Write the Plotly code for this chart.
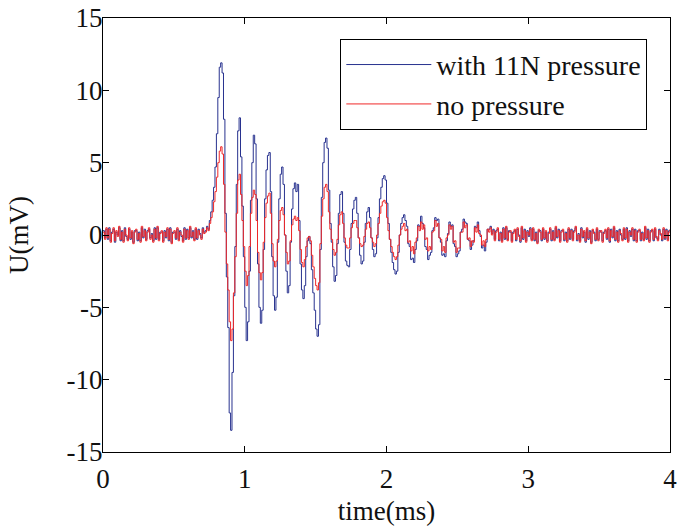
import plotly.graph_objects as go

dt = 0.01  # ms per sample

# ---- "with 11N pressure" (blue) ----
blue_pre = [
    0.3, -0.2, 0.4, -0.3, 0.5, -0.4, 0.2, 0.4, -0.5, 0.2,
    0.0, 0.5, -0.4, 0.3, -0.4, 0.5, -0.1, -0.3, 0.4, -0.3,
    0.2, -0.5, 0.3, 0.3, -0.4, 0.2, -0.4, 0.5, -0.2, 0.4,
    -0.3, 0.3, 0.4, -0.2, 0.1, -0.4, 0.5, -0.3, 0.5, -0.3,
    0.2, 0.2, -0.4, 0.3, -0.2, 0.4, -0.4, 0.5, -0.5, 0.2,
    0.2, -0.3, 0.4, -0.3, 0.3, -0.1, -0.4, 0.5, -0.3, 0.4,
    -0.2, 0.5, -0.2, 0.3, -0.3, 0.4, -0.3, 0.4, 0.1, -0.2,
    0.5, 0.2,
]
blue_event = [
    0.3, 0.6, 0.4, 1.0, 1.6, 2.4, 3.3, 4.7, 7.0, 9.5,
    11.6, 11.9, 11.2, 8.0, 1.5, -2.9, -6.4, -12.3, -13.5, -9.5,
    -4.2, -0.8, 3.5, 7.2, 8.1, 5.4, 2.0, -1.5, -5.0, -7.3,
    -6.0, -2.5, 2.4, 5.0, 6.9, 6.3, 2.5, -2.0, -5.0, -6.1,
    -5.2, -1.0, 2.5, 4.5, 5.5, 5.7, 3.0, -1.5, -4.2, -5.2,
    -4.3, -0.5, 2.5, 4.2, 4.7, 3.5, 0.0, -2.5, -4.0, -3.5,
    -0.5, 1.8, 3.2, 3.6, 3.0, 3.5, 1.0, -2.0, -3.8, -4.4,
    -3.5, -1.5, -0.4, -0.1, -0.6, -2.4, -4.0, -5.2, -6.5, -7.0,
    -6.2, -1.0, 2.6, 5.0, 6.4, 6.7, 6.0, 3.1, 0.8, -0.5,
    -2.2, -3.2, -2.8, -0.6, 1.5, 2.8, 3.0, 1.5, -0.5, -1.8,
    -2.1, -2.2, -1.0, 0.8, 1.8, 2.4, 2.6, 1.5, -0.2, -1.4,
    -2.0, -1.8, -0.5, 0.8, 1.6, 1.9, 1.2, -0.2, -1.0, -1.5,
    -1.3, -0.2, 1.2, 2.5, 3.3, 3.9, 4.1, 3.8, 2.2, 0.8,
    -0.3, -1.2, -1.9, -2.4, -2.7, -2.5, -1.2, 0.0, 0.8, 1.2,
    1.4, 1.0, 0.6, -0.6, -0.8, -1.7, -1.6, -1.9, -1.0, -0.4,
    0.7, 0.6, 1.3, 0.8, 0.5, -0.8, -1.0, -1.7, -1.4, -1.2,
    0.3, 0.5, 1.2, 1.0, 1.1, -0.2, -0.5, -1.4, -1.3, -1.5,
    -0.4, 0.1, 0.9, 0.6, 0.7, -0.6, -0.8, -1.5, -1.3, -1.1,
    0.2, 0.4, 1.1, 0.9, 0.8, -0.3, -0.4, -1.0, -0.7, -0.4,
    0.6, 0.5, 0.9, 0.3, -0.1, -0.9, -0.7, -1.1, -0.5, 0.4,
    0.4, 0.6, 0.1,
]
blue_tail = [
    0.4, -0.3, 0.3, 0.4, -0.4, 0.2, -0.4, 0.5, -0.3, 0.5,
    -0.3, 0.3, 0.2, -0.4, 0.2, 0.3, -0.4, 0.4, 0.0, -0.5,
    0.5, -0.3, 0.4, -0.4, 0.3, -0.1, 0.5, -0.3, 0.4, -0.4,
    0.2, -0.5, 0.3, 0.3, -0.4, 0.4, -0.3, 0.2, -0.4, 0.2,
    0.4, -0.4, 0.3, -0.3, 0.5, -0.2, 0.4, -0.4, 0.3, 0.3,
    -0.4, 0.2, -0.4, 0.4, -0.3, 0.4, -0.3, 0.3, 0.5, -0.4,
    0.1, -0.4, 0.5, -0.2, 0.2, -0.5, 0.4, -0.3, 0.3, -0.5,
    0.3, 0.2, -0.4, 0.4, -0.3, 0.3, 0.2, -0.4, 0.2, 0.3,
    -0.3, 0.4, -0.5, 0.4, -0.2, 0.5, -0.4, 0.3, -0.4, 0.4,
    0.0, -0.3, 0.4, -0.3, 0.5, -0.4, 0.3, -0.1, 0.4, -0.4,
    0.4, -0.4, 0.3, 0.3, -0.4, 0.2, -0.3, 0.5, -0.3, 0.4,
    -0.4, 0.3, 0.3, -0.4, 0.4, -0.2, -0.3, 0.4, 0.0, -0.4,
    0.4, -0.3, 0.4, -0.3, 0.3, 0.3, -0.4, 0.2, 0.4, -0.3,
]

# ---- "no pressure" (red) ----
red_pre = [
    0.2, -0.3, 0.5, -0.2, 0.4, -0.5, 0.1, 0.5, -0.4, 0.3,
    -0.1, 0.6, -0.3, 0.2, -0.5, 0.4, 0.0, -0.4, 0.5, -0.2,
    0.3, -0.6, 0.2, 0.4, -0.3, 0.1, -0.5, 0.6, -0.1, 0.3,
    -0.4, 0.2, 0.5, -0.3, 0.0, -0.5, 0.4, -0.2, 0.6, -0.4,
    0.1, 0.3, -0.5, 0.2, -0.1, 0.5, -0.3, 0.4, -0.6, 0.1,
    0.3, -0.2, 0.5, -0.4, 0.2, 0.0, -0.5, 0.4, -0.2, 0.3,
    -0.3, 0.6, -0.1, 0.2, -0.4, 0.5, -0.2, 0.3, 0.0, -0.3,
    0.4, 0.1,
]
red_event = [
    0.2, 0.5, 0.3, 0.8, 1.2, 1.6, 2.3, 3.0, 4.0, 5.0,
    5.8, 6.1, 5.6, 3.5, 0.2, -2.0, -3.8, -6.0, -7.3, -6.5,
    -4.0, -1.5, 1.5, 3.8, 4.2, 2.8, 1.0, -0.8, -2.5, -3.5,
    -2.8, -0.8, 1.5, 2.6, 3.1, 2.8, 1.0, -1.2, -2.6, -3.1,
    -2.6, -0.5, 1.2, 2.2, 2.7, 2.9, 1.5, -0.6, -1.8, -2.2,
    -1.8, -0.3, 1.0, 1.7, 1.9, 1.4, 0.0, -1.2, -2.0, -1.8,
    -0.4, 0.7, 1.1, 1.3, 1.0, 1.2, 0.3, -1.0, -1.9, -2.2,
    -1.7, -0.8, -0.2, -0.1, -0.4, -1.4, -2.2, -3.0, -3.5, -3.8,
    -3.3, -0.6, 1.3, 2.5, 3.3, 3.5, 3.0, 1.6, 0.4, -0.3,
    -1.0, -1.4, -1.2, -0.3, 0.7, 1.4, 1.6, 0.8, -0.2, -0.7,
    -0.9, -0.9, -0.2, 0.5, 0.8, 1.0, 1.0, 0.5, -0.2, -0.6,
    -0.8, -0.7, -0.1, 0.4, 0.8, 0.9, 0.5, -0.2, -0.5, -0.8,
    -0.6, 0.0, 0.8, 1.5, 2.0, 2.3, 2.4, 2.2, 1.2, 0.3,
    -0.3, -0.8, -1.2, -1.5, -1.7, -1.5, -0.7, 0.0, 0.4, 0.6,
    0.8, 0.3, 0.4, -0.5, -0.4, -1.1, -0.8, -1.3, -0.5, -0.2,
    0.6, 0.3, 0.9, 0.4, 0.7, -0.3, -0.2, -1.1, -0.8, -1.0,
    0.2, 0.3, 1.0, 0.6, 0.8, -0.2, -0.3, -1.1, -0.8, -1.2,
    -0.2, 0.0, 0.7, 0.4, 0.6, -0.5, -0.4, -1.2, -0.9, -0.9,
    0.2, 0.2, 0.9, 0.5, 0.7, -0.3, -0.2, -0.8, -0.4, -0.5,
    0.5, 0.2, 0.7, 0.1, 0.0, -0.7, -0.4, -0.8, -0.3, 0.4,
    0.2, 0.5, 0.0,
]
red_tail = [
    0.3, -0.4, 0.2, 0.5, -0.3, 0.1, -0.5, 0.4, -0.2, 0.6,
    -0.4, 0.2, 0.3, -0.5, 0.1, 0.4, -0.3, 0.5, -0.1, -0.4,
    0.6, -0.2, 0.3, -0.5, 0.2, 0.0, 0.4, -0.4, 0.5, -0.3,
    0.1, -0.6, 0.4, 0.2, -0.3, 0.5, -0.2, 0.3, -0.5, 0.1,
    0.5, -0.3, 0.2, -0.4, 0.6, -0.1, 0.3, -0.5, 0.2, 0.4,
    -0.3, 0.1, -0.5, 0.5, -0.2, 0.3, -0.4, 0.2, 0.6, -0.3,
    0.0, -0.5, 0.4, -0.1, 0.3, -0.4, 0.5, -0.2, 0.2, -0.6,
    0.4, 0.1, -0.3, 0.5, -0.4, 0.2, 0.3, -0.5, 0.1, 0.4,
    -0.2, 0.5, -0.4, 0.3, -0.1, 0.6, -0.3, 0.2, -0.5, 0.3,
    0.1, -0.4, 0.5, -0.2, 0.4, -0.5, 0.2, 0.0, 0.5, -0.3,
    0.3, -0.5, 0.2, 0.4, -0.3, 0.1, -0.4, 0.6, -0.2, 0.3,
    -0.5, 0.2, 0.4, -0.3, 0.5, -0.1, -0.4, 0.3, 0.1, -0.3,
    0.5, -0.2, 0.3, -0.4, 0.2, 0.4, -0.5, 0.1, 0.3, -0.2,
]

x_tick_vals = [0, 1, 2, 3, 4]
x_tick_text = ["0", "1", "2", "3", "4"]
y_tick_vals = [-15, -10, -5, 0, 5, 10, 15]
y_tick_text = ["-15", "-10", "-5", "0", "5", "10", "15"]

with_pressure = blue_pre + blue_event + blue_tail
no_pressure = red_pre + red_event + red_tail
t_with = [round(i * dt, 2) for i in range(len(with_pressure))]
t_no = [round(i * dt, 2) for i in range(len(no_pressure))]

SERIF = "Liberation Serif"

fig = go.Figure()
fig.add_trace(go.Scatter(x=t_with, y=with_pressure, mode="lines", name="with 11N pressure",
                         line=dict(color="#28328f", width=1, shape="hv")))
fig.add_trace(go.Scatter(x=t_no, y=no_pressure, mode="lines", name="no pressure",
                         line=dict(color="#f02828", width=1, shape="hv")))

fig.update_layout(
    width=677, height=527,
    margin=dict(l=103, r=7, t=18, b=75, autoexpand=False),
    paper_bgcolor="white", plot_bgcolor="white",
    font=dict(family=SERIF, size=27, color="#111111"),
    showlegend=True,
    legend=dict(x=0.96, y=0.952, xanchor="right", yanchor="top",
                bordercolor="black", borderwidth=1, bgcolor="white",
                font=dict(family=SERIF, size=28, color="#111111"),
                itemwidth=85, tracegroupgap=0),
)
fig.update_xaxes(range=[0, 4], tickvals=x_tick_vals, ticktext=x_tick_text,
                 ticks="inside", ticklen=6, ticklabeloverflow="allow", ticklabelstandoff=3,
                 tickcolor="black", showline=True, linecolor="black", linewidth=1,
                 mirror="ticks", showgrid=False, zeroline=False, automargin=False,
                 title=dict(text="time(ms)", font=dict(size=27), standoff=7))
fig.update_yaxes(range=[-15, 15], tickvals=y_tick_vals, ticktext=y_tick_text,
                 ticks="inside", ticklen=6, ticklabeloverflow="allow", ticklabelstandoff=-6,
                 tickcolor="black", showline=True, linecolor="black", linewidth=1,
                 mirror="ticks", showgrid=False, zeroline=False, automargin=False,
                 title=dict(text="U(mV)", font=dict(size=27), standoff=30))

fig.write_html("out.html", config={"displayModeBar": False},
               post_script="document.body.style.margin='0';")
